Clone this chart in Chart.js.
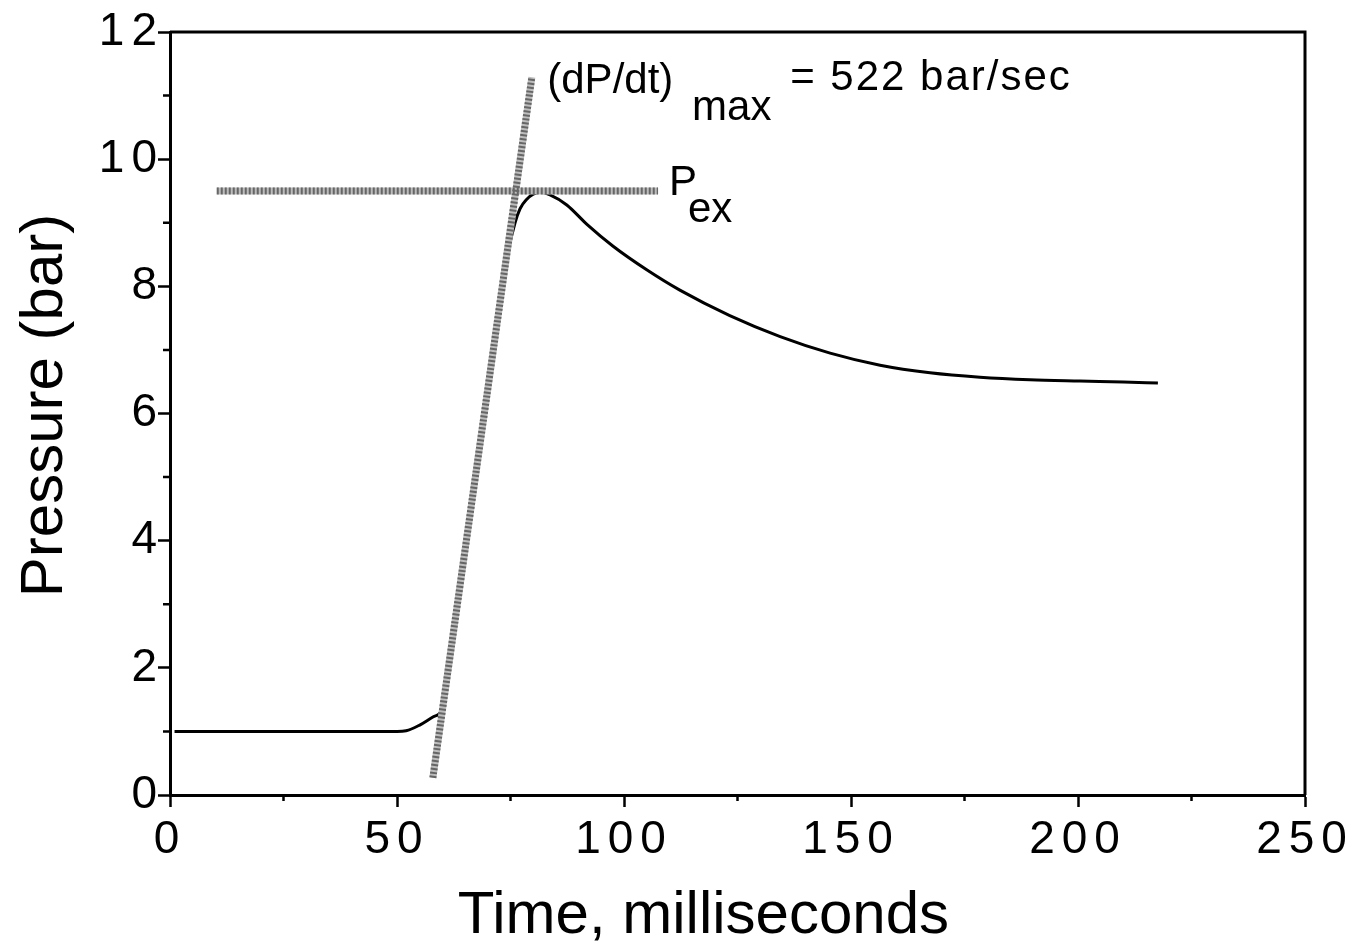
<!DOCTYPE html>
<html lang="en">
<head>
<meta charset="UTF-8" />
<title>Pressure (bar) vs Time, milliseconds</title>
<script src="https://cdn.jsdelivr.net/npm/chart.js"></script>
<style>
  html, body { margin: 0; padding: 0; background: #fff; }
  canvas { display: block; }
</style>
</head>
<body>
<canvas id="pressureChart" width="1361" height="947"></canvas>
<script>
  // pressure trace (ms, bar)
  const timeMs = [1, 10, 20, 30, 40, 50, 52, 55, 58, 60, 64, 68, 72, 74.5, 76, 77.1, 78.6, 80, 81.5,
    83.7, 87.4, 91.9, 97.6, 105, 112.3, 123.3, 134.4, 145.4, 156.4, 167.4, 178.4, 189.4, 200.4, 210, 217.6];
  const pressureBar = [1.0, 1.0, 1.0, 1.0, 1.0, 1.0, 1.01, 1.10, 1.23, 1.37, 3.4, 5.4, 7.4, 8.55, 9.0, 9.22, 9.37, 9.45, 9.48,
    9.44, 9.28, 8.97, 8.63, 8.26, 7.94, 7.54, 7.21, 6.95, 6.76, 6.64, 6.57, 6.53, 6.51, 6.495, 6.48];

  // tangent at the maximum rate of pressure rise
  const tangentTime = [57.9, 79.7];
  const tangentPressure = [0.27, 11.29];

  // explosion pressure level
  const pexTime = [10.3, 107.5];
  const pexPressure = [9.5, 9.5];

  const xTicks = [0, 50, 100, 150, 200, 250];
  const xMinor = [25, 75, 125, 175, 225];
  const yTicks = [0, 2, 4, 6, 8, 10, 12];
  const yMinor = [1, 3, 5, 7, 9, 11];

  const FONT = '"Liberation Sans", Arial, Helvetica, sans-serif';

  const toPoints = (xs, ys) => xs.map((v, i) => ({ x: v, y: ys[i] }));

  // the tick labels in the figure are set wide
  const spacing = {
    id: 'spacing',
    beforeDraw(chart) { chart.ctx.letterSpacing = '7px'; },
    afterDraw(chart) { chart.ctx.letterSpacing = '0px'; }
  };

  // box, minor ticks, annotations and axis titles
  const extras = {
    id: 'extras',
    afterDraw(chart) {
      const { ctx, chartArea: a, scales: { x, y } } = chart;
      ctx.save();
      ctx.letterSpacing = '0px';
      ctx.strokeStyle = '#000';
      ctx.lineWidth = 3;
      ctx.beginPath();
      ctx.moveTo(a.left, a.top);
      ctx.lineTo(a.right, a.top);
      ctx.lineTo(a.right, a.bottom);
      ctx.stroke();

      ctx.lineWidth = 2.5;
      ctx.beginPath();
      xMinor.forEach(v => {
        const px = x.getPixelForValue(v);
        ctx.moveTo(px, a.bottom);
        ctx.lineTo(px, a.bottom + 6);
      });
      yMinor.forEach(v => {
        const py = y.getPixelForValue(v);
        ctx.moveTo(a.left, py);
        ctx.lineTo(a.left - 7, py);
      });
      ctx.stroke();

      ctx.fillStyle = '#000';
      ctx.textAlign = 'left';
      ctx.textBaseline = 'alphabetic';
      ctx.font = '42px ' + FONT;
      const put = (txt, t, p) => ctx.fillText(txt, x.getPixelForValue(t), y.getPixelForValue(p));
      put('(dP/dt)', 83.1, 11.04);
      put('max', 115, 10.62);
      ctx.letterSpacing = '2px';
      put('= 522 bar/sec', 136.6, 11.09);
      ctx.letterSpacing = '0px';
      put('P', 109.9, 9.44);
      put('ex', 114.1, 9.01);

      ctx.font = '60px ' + FONT;
      ctx.textAlign = 'center';
      ctx.fillText('Time, milliseconds', x.getPixelForValue(117.5), a.bottom + 138);

      ctx.translate(62, (a.top + a.bottom) / 2 - 8);
      ctx.rotate(-Math.PI / 2);
      ctx.fillText('Pressure (bar)', 0, 0);
      ctx.restore();
    }
  };

  const grayLine = (label, data) => [
    { label, data, borderColor: '#bdbdbd', borderWidth: 7, pointRadius: 0, order: 2 },
    { label: label + ' texture', data, borderColor: '#666', borderWidth: 7, borderDash: [2, 2], pointRadius: 0, order: 1 }
  ];

  new Chart(document.getElementById('pressureChart'), {
    type: 'line',
    data: {
      datasets: [
        {
          label: 'Pressure',
          data: toPoints(timeMs, pressureBar),
          borderColor: '#000',
          borderWidth: 3,
          pointRadius: 0,
          cubicInterpolationMode: 'monotone',
          order: 3
        },
        ...grayLine('(dP/dt) max', toPoints(tangentTime, tangentPressure)),
        ...grayLine('Pex', toPoints(pexTime, pexPressure))
      ]
    },
    options: {
      responsive: false,
      animation: false,
      layout: { padding: { top: 32, right: 56, left: 0, bottom: 0 } },
      plugins: {
        legend: { display: false },
        tooltip: { enabled: false }
      },
      scales: {
        x: {
          type: 'linear',
          min: 0,
          max: 250,
          afterBuildTicks: s => { s.ticks = xTicks.map(v => ({ value: v })); },
          afterFit: s => { s.height = 152; },
          ticks: { color: '#000', font: { family: FONT, size: 46 }, padding: 6, maxRotation: 0 },
          grid: { drawOnChartArea: false, drawTicks: true, tickLength: 12, tickColor: '#000', tickWidth: 2.5 },
          border: { display: true, color: '#000', width: 3 }
        },
        y: {
          type: 'linear',
          min: 0,
          max: 12,
          afterBuildTicks: s => { s.ticks = yTicks.map(v => ({ value: v })); },
          afterFit: s => { s.width = 170; },
          ticks: { color: '#000', font: { family: FONT, size: 46 }, padding: -6 },
          grid: { drawOnChartArea: false, drawTicks: true, tickLength: 12, tickColor: '#000', tickWidth: 2.5 },
          border: { display: true, color: '#000', width: 3 }
        }
      }
    },
    plugins: [spacing, extras]
  });
</script>
</body>
</html>
